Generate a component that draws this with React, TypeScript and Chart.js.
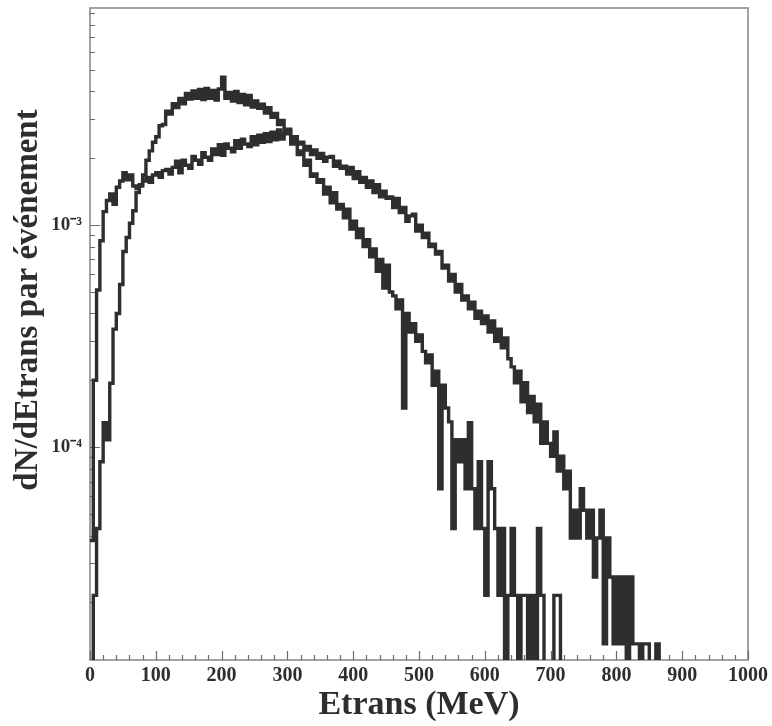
import React, { useEffect, useRef } from "react";
import { Chart, registerables } from "chart.js";

Chart.register(...registerables);

// Histogram bins: 5 MeV wide, starting at 0 MeV
const BIN_WIDTH = 5;
// Values in units of 1e-5 (dN/dEtrans per event)
const VALUE_UNIT = 1e-5;

// Wide spectrum (extends to ~860 MeV)
const SERIES_WIDE = [
  3.8, 20, 51, 85, 115, 129, 138, 124, 148, 158,
  172, 160, 168, 150, 146, 152, 158, 164, 156, 168,
  172, 164, 176, 178, 170, 182, 194, 172, 196, 186,
  180, 204, 196, 188, 212, 202, 196, 220, 208, 230,
  206, 232, 222, 214, 240, 222, 244, 232, 226, 250,
  230, 254, 236, 258, 238, 262, 242, 268, 244, 258,
  266, 246, 250, 232, 236, 218, 226, 208, 218, 200,
  210, 194, 202, 204, 184, 194, 180, 184, 170, 182,
  162, 174, 156, 164, 148, 158, 140, 152, 134, 142,
  132, 134, 120, 132, 114, 120, 104, 110, 112, 94,
  100, 88, 92, 80, 82, 74, 76, 64, 66, 56,
  60, 50, 54, 46, 48, 42, 45, 38, 41, 36,
  39, 33, 37, 30, 34, 28, 31, 25, 23, 19.5,
  22, 16, 19.5, 14.3, 16.9, 13, 15.6, 10.4, 13, 10.4,
  9.1, 11.7, 7.8, 9.1, 6.5, 7.8, 3.9, 5.2, 3.9, 6.5,
  5.2, 3.9, 5.2, 2.6, 3.9, 5.2, 1.3, 3.9, 2.6, 1.3,
  2.6, 1.3, 2.6, 0, 2.6, 1.3, 1.3, 0, 1.3, 1.3,
  0, 0, 1.3,
];

// Narrow spectrum (peaks near 200 MeV, ends ~720 MeV)
const SERIES_NARROW = [
  0, 2.15, 4.3, 8.6, 12.9, 10.8, 19.4, 34, 40, 54,
  76, 88, 102, 116, 140, 150, 168, 196, 216, 236,
  250, 280, 284, 326, 316, 352, 338, 372, 352, 392,
  370, 402, 372, 408, 368, 412, 372, 404, 366, 410,
  464, 372, 396, 362, 400, 356, 388, 348, 384, 340,
  362, 336, 350, 320, 338, 306, 318, 284, 296, 262,
  270, 232, 240, 208, 216, 186, 196, 166, 170, 156,
  160, 138, 148, 126, 140, 118, 124, 108, 118, 96,
  104, 88, 96, 80, 86, 72, 78, 62, 70, 52,
  66, 50, 48, 42, 46, 15, 40, 33, 36, 30,
  32, 27, 24, 26, 19, 22, 6.5, 19, 15, 13,
  4.3, 10.8, 8.6, 10.8, 6.5, 12.9, 6.5, 4.3, 8.6, 4.3,
  2.15, 8.6, 6.5, 4.3, 2.15, 4.3, 0, 2.15, 4.3, 2.15,
  0, 2.15, 2.15, 0, 2.15, 0, 4.3, 2.15, 0, 0,
  0, 2.15, 2.15,
];

const X_MIN = 0;
const X_MAX = 1000;
const X_TICK_STEP = 100;
const X_MINOR_STEP = 20;
const Y_MIN = 1.1e-5;
const Y_MAX = 9.5e-3;
const Y_TICKS = [1e-4, 1e-3];
const Y_TICK_LABELS = ["10\u207B\u2074", "10\u207B\u00B3"];
const Y_TITLE = "dN/dEtrans par événement";
const X_TITLE = "Etrans (MeV)";

const FLOOR = 1e-8; // empty bins drop below the axis

function toSteps(values: number[]) {
  const pts = values.map((v, i) => ({
    x: i * BIN_WIDTH,
    y: v > 0 ? v * VALUE_UNIT : FLOOR,
  }));
  pts.push({ x: values.length * BIN_WIDTH, y: FLOOR });
  return pts;
}

const SERIF = '"Liberation Serif", "Times New Roman", serif';
const INK = "#2e2e2e";

const decorPlugin = {
  id: "decor",
  beforeDatasetsDraw(chart: any) {
    const { ctx, chartArea, scales } = chart;
    const { left, right, top, bottom } = chartArea;
    const x = scales.x;
    const y = scales.y;
    ctx.save();
    ctx.strokeStyle = "#8c8c8c";
    ctx.lineWidth = 1.6;
    ctx.strokeRect(left, top, right - left, bottom - top);
    ctx.strokeStyle = "#6a6a6a";
    ctx.lineWidth = 1.2;
    ctx.beginPath();
    for (let v = X_MIN; v <= X_MAX; v += X_MINOR_STEP) {
      const px = Math.round(x.getPixelForValue(v)) + 0.5;
      const len = v % X_TICK_STEP === 0 ? 9 : 5;
      ctx.moveTo(px, bottom);
      ctx.lineTo(px, bottom - len);
    }
    for (let d = -6; d <= -1; d++) {
      for (let m = 1; m <= 9; m++) {
        const val = m * Math.pow(10, d);
        if (val < Y_MIN || val > Y_MAX) continue;
        const py = Math.round(y.getPixelForValue(val)) + 0.5;
        const len = m === 1 ? 10 : 5;
        ctx.moveTo(left, py);
        ctx.lineTo(left + len, py);
      }
    }
    ctx.stroke();
    ctx.restore();
  },
  afterDraw(chart: any) {
    const { ctx } = chart;
    ctx.save();
    ctx.translate(37, 300);
    ctx.rotate(-Math.PI / 2);
    ctx.font = `bold 33px ${SERIF}`;
    ctx.fillStyle = INK;
    ctx.textAlign = "center";
    ctx.textBaseline = "alphabetic";
    ctx.fillText(Y_TITLE, 0, 0);
    ctx.restore();
  },
};

export default function App() {
  const ref = useRef<HTMLCanvasElement | null>(null);

  useEffect(() => {
    if (!ref.current) return;
    const chart = new Chart(ref.current, {
      type: "line",
      data: {
        datasets: [
          {
            label: "wide",
            data: toSteps(SERIES_WIDE),
            stepped: true,
            borderColor: INK,
            borderWidth: 3.4,
            pointRadius: 0,
            fill: false,
          },
          {
            label: "narrow",
            data: toSteps(SERIES_NARROW),
            stepped: true,
            borderColor: INK,
            borderWidth: 3.4,
            pointRadius: 0,
            fill: false,
          },
        ],
      },
      options: {
        animation: false,
        responsive: false,
        layout: { padding: { top: 8, right: 24, left: 0, bottom: 0 } },
        plugins: {
          legend: { display: false },
          tooltip: { enabled: false },
        },
        scales: {
          x: {
            type: "linear",
            min: X_MIN,
            max: X_MAX,
            grid: { display: false, drawTicks: false },
            border: { display: false },
            ticks: {
              stepSize: X_TICK_STEP,
              autoSkip: false,
              maxRotation: 0,
              padding: 4,
              color: INK,
              font: { family: SERIF, size: 20, weight: "bold" },
              callback: (v: any) => String(v),
            },
            title: {
              display: true,
              text: X_TITLE,
              color: INK,
              padding: { top: 0, bottom: 0 },
              font: { family: SERIF, size: 34, weight: "bold" },
            },
            afterFit: (s: any) => {
              s.height = 66;
              s.paddingLeft = 0;
              s.paddingRight = 0;
            },
          },
          y: {
            type: "logarithmic",
            min: Y_MIN,
            max: Y_MAX,
            grid: { display: false, drawTicks: false },
            border: { display: false },
            afterBuildTicks: (s: any) => {
              s.ticks = Y_TICKS.map((v) => ({ value: v }));
            },
            ticks: {
              padding: 8,
              color: INK,
              font: { family: SERIF, size: 19, weight: "bold" },
              callback: (_v: any, i: number) => Y_TICK_LABELS[i],
            },
            afterFit: (s: any) => {
              s.width = 90;
              s.paddingTop = 0;
              s.paddingBottom = 0;
            },
          },
        },
      },
      plugins: [decorPlugin],
    });
    return () => chart.destroy();
  }, []);

  return (
    <div
      style={{
        position: "absolute",
        left: 0,
        top: 0,
        width: 772,
        height: 726,
        background: "#fff",
      }}
    >
      <canvas ref={ref} width={772} height={726} />
    </div>
  );
}
